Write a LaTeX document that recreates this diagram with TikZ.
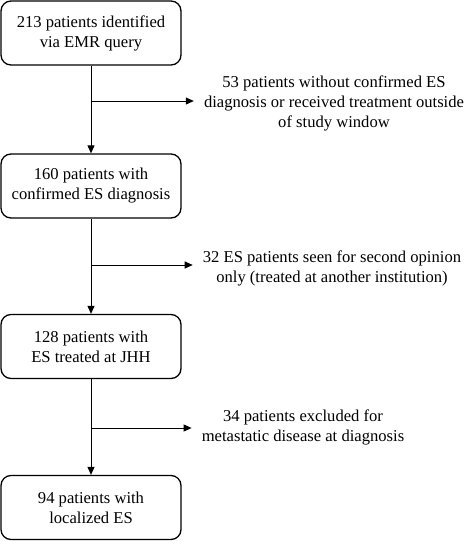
\documentclass[tikz,border=0pt]{standalone}
\usepackage{fontspec}
\setmainfont{Liberation Serif}
\usetikzlibrary{arrows.meta}
\begin{document}
\begin{tikzpicture}[x=1pt,y=-1pt,
  flowbox/.style={draw, line width=1.3pt, rounded corners=10pt, minimum width=180pt, minimum height=64pt, align=center, inner sep=0pt, font=\fontsize{16.6}{20}\selectfont},
  exnote/.style={align=center, inner sep=10pt, font=\fontsize{16.6}{20}\selectfont},
  conn/.style={line width=1pt, -{Triangle[length=8pt,width=7pt]}},
  branch/.style={line width=1pt, -{Triangle[length=8pt,width=7pt]}}]
\useasboundingbox (0,0) rectangle (465,541);
\node[flowbox] (b1) at (91,33) {213 patients identified\\via EMR query};
\node[flowbox] (b2) at (91,186) {160 patients with\\confirmed ES diagnosis};
\node[flowbox] (b3) at (91,346.5) {128 patients with\\ES treated at JHH};
\node[flowbox] (b4) at (91,507.5) {94 patients with\\localized ES};
\node[exnote] (e1) at (334,103) {53 patients without confirmed ES\\diagnosis or received treatment outside\\of study window};
\node[exnote] (e2) at (332,268) {32 ES patients seen for second opinion\\only (treated at another institution)};
\node[exnote] (e3) at (303,427) {34 patients excluded for\\metastatic disease at diagnosis};
\coordinate (j1) at (91,101);
\coordinate (j2) at (91,265);
\coordinate (j3) at (91,428);
\draw[conn] (b1) -- (b2);
\draw[conn] (b2) -- (b3);
\draw[conn] (b3) -- (b4);
\draw[branch] (j1) -- (j1 -| e1.west);
\draw[branch] (j2) -- (j2 -| e2.west);
\draw[branch] (j3) -- (j3 -| e3.west);
\end{tikzpicture}
\end{document}
